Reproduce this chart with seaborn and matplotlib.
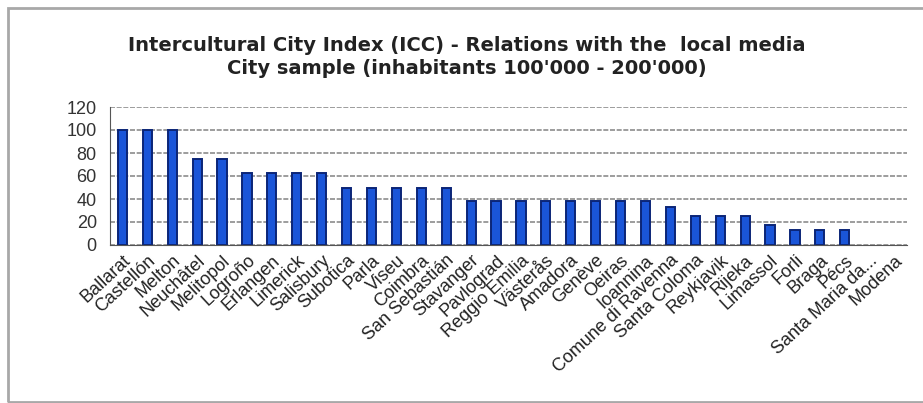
import matplotlib
matplotlib.use("Agg")
import matplotlib.pyplot as plt
import seaborn as sns
import pandas as pd
from matplotlib.patches import Rectangle

# data
cities = ["Ballarat", "Castellón", "Melton", "Neuchâtel", "Melitopol", "Logroño",
          "Erlangen", "Limerick", "Salisbury", "Subotica", "Parla", "Viseu",
          "Coimbra", "San Sebastián", "Stavanger", "Pavlograd", "Reggio Emilia",
          "Västerås", "Amadora", "Genève", "Oeiras", "Ioannina",
          "Comune di Ravenna", "Santa Coloma", "Reykjavik", "Rijeka", "Limassol",
          "Forli", "Braga", "Pécs", "Santa Maria da...", "Modena"]
scores = [100, 100, 100, 75, 75, 63, 63, 63, 63, 50, 50, 50, 50, 50,
          38, 38, 38, 38, 38, 38, 38, 38, 33, 25, 25, 25, 17, 13, 13, 13, 0, 0]
yticks = [0, 20, 40, 60, 80, 100, 120]
title = ("Intercultural City Index (ICC) - Relations with the  local media\n"
         "City sample (inhabitants 100'000 - 200'000)")

df = pd.DataFrame({"city": cities, "score": scores})

sns.set_style("white")
plt.rcParams["font.family"] = ["Liberation Sans", "DejaVu Sans"]

fig = plt.figure(figsize=(9.23, 4.03), dpi=100)
ax = fig.add_axes([110/923, 1 - 245/403, 797/923, 138/403])

sns.barplot(data=df, x="city", y="score", color="#1a55d8", width=0.37,
            edgecolor="#0b2577", linewidth=1.4, saturation=1, ax=ax)
# zero-valued bars are not drawn in the original
for p in ax.patches:
    if p.get_height() == 0:
        p.set_visible(False)

ax.set_xlim(-0.5, len(cities) - 0.5)
ax.set_ylim(0, 120)
ax.set_yticks(yticks)
ax.set_yticklabels([str(t) for t in yticks], fontsize=13, color="#333333")
ax.yaxis.grid(True, color="#8c8c8c", linestyle=(0, (3, 1)), linewidth=1.2)
ax.set_axisbelow(True)

# x ticks between categories, labels at bar centres
ax.set_xticks(range(len(cities)))
ax.set_xticklabels(cities, rotation=43, ha="right", rotation_mode="anchor",
                   fontsize=13, color="#222222")
ax.tick_params(axis="x", length=0, pad=5)
ax.set_xticks([i - 0.5 for i in range(len(cities) + 1)], minor=True)
ax.tick_params(axis="x", which="minor", length=4, direction="out", color="#555555")
ax.tick_params(axis="y", length=7, direction="inout", color="#555555", pad=6)

ax.set_xlabel("")
ax.set_ylabel("")
for s in ["top", "right"]:
    ax.spines[s].set_visible(False)
ax.spines["left"].set_color("#555555")
ax.spines["bottom"].set_color("#555555")

fig.text(467/923, 1 - 57/403, title, ha="center", va="center",
         fontsize=14, fontweight="bold", linespacing=1.25, color="#222222",
         family=["DejaVu Sans"])

# grey frame around the chart
fig.patches.append(Rectangle((8/923, 1/403), 1.0, 394/403, transform=fig.transFigure,
                             fill=False, edgecolor="#a8a8a8", linewidth=2))

fig.savefig("out.png", dpi=100)
